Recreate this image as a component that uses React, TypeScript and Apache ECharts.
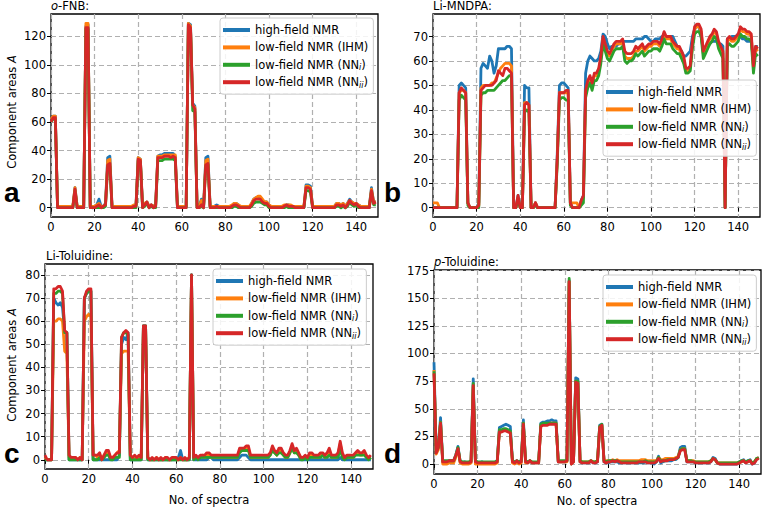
import { useEffect, useRef } from 'react';
import * as echarts from 'echarts';

const COLORS = ['#1f77b4', '#ff7f0e', '#2ca02c', '#d62728'];
const SERIES_NAMES = ['high-field NMR', 'low-field NMR (IHM)', 'low-field NMR (NNi)', 'low-field NMR (NNii)'];
const X_TICKS = [0, 20, 40, 60, 80, 100, 120, 140];

// Panel a: o-FNB
const A_blue = [62,64,64,1,0,0,0,0,0,0, 0,14,1,0,0,0,127,128,1,0, 1,2,6,1,1,3,35,36,1,0, 0,0,0,0,0,0,0,1,1,2, 35,34,1,3,4,1,2,1,2,36, 37,37,38,38,38,38,38,36,1,1, 1,1,1,129,128,73,71,1,1,6, 1,35,36,1,1,1,2,1,0,0, 0,0,0,1,3,3,2,0,0,0, 0,0,3,6,7,7,7,5,4,4, 2,0,0,0,0,0,1,1,2,2, 1,1,0,0,0,0,0,16,16,15, 1,0,0,0,0,0,0,0,0,0, 1,3,3,2,3,1,3,6,4,3, 3,2,1,0,0,0,1,14,4,4];
const A_orange = [62,64,64,1,1,1,1,1,1,1, 1,14,1,1,1,1,129,129,1,1, 1,2,3,1,1,2,33,34,1,1, 1,1,1,1,1,1,1,1,2,2, 35,34,1,3,4,1,2,1,2,36, 36,36,37,37,37,37,37,37,1,1, 1,1,1,129,127,72,70,1,1,5, 1,33,34,1,1,1,1,1,1,1, 1,1,1,2,3,3,2,1,1,1, 1,1,3,6,7,8,8,6,4,4, 2,1,1,1,1,1,1,2,2,2, 2,1,1,1,1,1,1,15,15,14, 1,1,1,1,1,1,1,1,1,1, 1,3,3,2,3,1,3,5,4,3, 3,2,1,1,1,1,1,13,4,4];
const A_green = [60,62,62,0,0,0,0,0,0,0, 0,12,0,0,0,0,125,125,0,0, 0,0,0,0,0,1,29,29,0,0, 0,0,0,0,0,0,0,0,0,0, 33,32,0,1,3,0,1,0,0,33, 33,33,34,34,34,34,34,33,0,0, 0,0,0,127,125,68,67,0,0,1, 0,29,30,0,0,0,0,0,0,0, 0,0,0,0,1,1,0,0,0,0, 0,0,1,3,4,4,4,3,2,2, 0,0,0,0,0,0,0,0,1,0, 0,0,0,0,0,0,0,12,12,11, 0,0,0,0,0,0,0,0,0,0, 0,1,1,0,1,0,1,4,2,1, 2,0,0,0,0,0,0,11,2,2];
const A_red = [60,63,63,0,0,0,0,0,0,0, 0,13,0,0,0,0,126,126,0,0, 0,1,2,0,1,2,30,31,0,0, 0,0,0,0,0,0,0,0,1,1, 34,33,0,2,4,0,2,0,1,35, 35,35,36,36,36,35,36,35,0,0, 0,0,0,128,126,72,69,0,0,2, 0,30,31,0,0,0,1,0,0,0, 0,0,0,1,2,2,1,0,0,0, 0,0,2,5,6,6,6,4,3,3, 1,0,0,0,0,0,0,1,2,1, 1,1,0,0,0,0,0,14,14,13, 0,0,0,0,0,0,0,0,0,0, 0,2,2,1,2,0,2,5,3,2, 3,1,0,0,0,0,0,12,3,4];
const A_TICKS = [0, 20, 40, 60, 80, 100, 120];

// Panel b: Li-MNDPA
const B_blue = [0,0,0,0,0,0,0,0,0,0, 0,0,50,51,50,49,2,0,0,0, 0,2,57,59,58,57,62,60,55,58, 65,65,65,65,66,66,65,0,0,5, 0,0,50,49,49,0,0,2,0,0, 0,0,0,0,0,0,0,22,50,51, 51,50,49,2,0,0,0,0,3,5, 55,60,62,61,60,60,61,64,71,70, 67,65,66,66,66,67,67,68,68,68, 68,68,68,69,69,69,69,70,70,69, 68,68,69,69,69,70,70,70,70,70, 70,68,66,65,64,62,62,63,64,70, 73,74,74,70,64,65,66,67,68,68, 68,67,67,66,0,69,69,70,70,70, 71,70,69,69,68,68,68,60,66,66];
const B_orange = [2,2,2,0,0,0,0,0,0,0, 0,0,47,48,48,47,2,0,0,0, 0,1,49,50,50,50,50,51,51,53, 55,57,58,59,59,59,58,0,0,4, 0,0,43,43,42,0,0,2,0,0, 0,0,0,0,0,0,0,20,47,47, 47,47,47,2,2,2,2,0,2,4, 47,51,53,50,54,54,56,61,69,66, 63,62,64,66,67,67,67,68,62,61, 61,61,62,64,64,65,66,64,65,66, 66,67,67,67,66,68,71,69,69,69, 67,66,65,65,62,60,56,56,57,67, 73,74,74,72,63,65,67,69,70,72, 71,67,65,63,0,68,69,68,68,69, 70,73,72,72,71,71,70,57,65,64];
const B_green = [0,0,0,0,0,0,0,0,0,0, 0,0,44,46,45,44,1,0,0,0, 0,0,46,47,47,48,48,48,48,49, 50,51,52,52,53,54,54,0,0,3, 0,0,39,40,39,0,0,1,0,0, 0,0,0,0,0,0,0,18,44,45, 45,44,44,1,0,0,0,0,1,2, 45,49,51,48,52,52,54,59,67,64, 61,60,62,64,65,65,65,66,60,59, 60,60,61,63,62,63,64,62,63,64, 64,65,65,65,64,66,69,67,67,67, 65,64,63,63,61,59,55,55,56,65, 71,72,72,70,61,63,65,67,68,70, 69,65,63,61,0,66,67,66,66,67, 68,71,70,70,69,69,68,55,63,62];
const B_red = [0,0,0,0,0,0,0,0,0,0, 0,0,47,49,48,47,2,0,0,0, 0,1,48,49,50,50,50,50,51,52, 56,55,54,57,57,56,55,0,0,5, 0,0,42,43,42,0,0,2,0,0, 0,0,0,0,0,0,0,20,47,47, 47,48,48,2,0,0,0,0,3,5, 48,52,54,51,55,55,57,62,70,67, 64,63,65,67,68,68,68,69,64,63, 63,63,64,66,65,66,67,65,66,67, 67,68,68,68,67,69,72,70,70,70, 68,67,66,66,64,62,57,57,58,68, 74,75,75,73,64,66,68,70,71,73, 72,68,66,64,0,69,70,69,69,70, 71,74,73,73,72,72,71,58,66,65];
const B_TICKS = [0, 10, 20, 30, 40, 50, 60, 70];

// Panel c: Li-Toluidine
const C_blue = [0,0,0,0,70,68,67,68,66,55, 55,0,0,0,0,0,0,0,70,72, 73,73,0,0,0,0,0,0,0,0, 0,0,0,0,2,50,53,52,55,0, 0,0,0,0,0,58,58,0,0,0, 0,0,0,0,0,0,0,0,0,0, 0,1,4,0,0,0,0,80,0,0, 0,0,0,0,0,1,1,0,0,0, 0,0,0,0,0,0,0,0,0,1, 2,2,2,1,0,0,0,0,0,0, 0,0,0,0,0,0,0,0,0,0, 0,0,0,0,0,0,0,0,0,0, 0,0,0,0,0,0,0,0,0,0, 0,0,0,0,0,1,0,0,0,0, 0,0,0,0,0,0,0,0,0,0];
const C_orange = [1,0,0,0,60,60,61,61,60,47, 46,1,1,1,1,0,1,0,60,62, 63,62,2,2,1,2,0,2,3,3, 1,1,2,3,4,46,47,47,47,1, 1,1,1,1,1,57,57,1,0,0, 0,1,0,0,0,1,0,0,0,1, 0,0,1,0,0,0,1,79,1,1, 1,1,2,1,2,2,1,1,1,1, 1,1,1,1,1,1,1,1,1,4, 4,4,5,5,1,1,1,1,1,1, 1,1,1,2,5,3,2,4,4,2, 1,1,3,6,3,4,2,1,1,1, 1,2,2,1,1,1,2,2,1,2, 4,1,1,1,2,7,2,1,1,1, 1,1,2,3,2,2,3,1,1,1];
const C_green = [0,0,0,0,72,72,73,73,72,55, 55,0,0,0,0,0,0,0,70,72, 73,73,0,0,0,1,0,1,2,2, 0,0,1,1,1,53,55,55,54,0, 0,0,0,0,0,58,58,0,0,0, 0,0,0,0,0,0,0,0,0,0, 0,0,0,0,0,0,0,80,0,1, 0,1,1,1,1,1,1,1,1,1, 1,1,1,1,1,1,1,1,1,3, 4,4,4,4,1,1,1,1,1,1, 1,1,1,2,4,3,2,3,3,2, 1,1,3,5,3,3,2,0,0,1, 0,1,1,1,1,1,1,2,1,1, 2,1,1,1,1,5,1,0,1,1, 1,1,2,2,2,2,2,1,0,1];
const C_red = [2,0,0,0,74,74,75,75,73,56, 55,2,1,1,1,0,1,0,70,73, 74,74,2,2,2,3,0,2,4,4, 1,1,2,3,3,53,55,56,55,2, 1,2,1,2,1,58,58,1,0,1, 0,1,0,1,0,1,1,0,1,1, 1,0,1,0,1,0,1,80,1,2, 1,2,2,2,3,3,2,2,2,2, 2,2,2,2,2,2,2,2,2,5, 5,5,6,6,2,2,2,2,2,2, 2,2,2,3,6,4,3,5,5,3, 2,2,4,7,4,5,3,1,1,2, 1,3,3,2,2,2,3,3,2,3, 5,2,2,2,3,8,3,1,2,2, 2,2,3,4,3,3,4,2,1,2];
const C_TICKS = [0, 10, 20, 30, 40, 50, 60, 70, 80];

// Panel d: p-Toluidine
const D_blue = [92,10,16,42,2,2,2,3,3,3, 8,16,2,1,2,1,1,2,77,2, 1,1,2,1,1,1,1,1,1,2, 33,34,35,36,35,34,2,1,3,1, 2,40,2,1,3,1,1,1,1,37, 38,38,39,39,40,39,39,2,2,2, 2,3,166,0,2,78,77,2,1,1, 1,1,3,1,1,2,35,36,2,1, 1,2,2,2,2,1,1,1,1,1, 1,1,1,1,1,1,1,2,1,1, 1,0,2,7,1,2,3,3,3,3, 4,4,6,15,16,16,2,2,2,2, 1,1,1,1,1,1,1,2,6,5, 1,0,0,0,0,0,0,0,0,0, 1,3,4,1,3,4,0,1,5,6];
const D_orange = [85,9,13,38,0,0,0,1,1,1, 6,14,1,0,0,0,0,1,72,0, 0,0,0,0,0,0,0,0,0,1, 30,30,31,31,30,29,1,0,2,0, 1,37,1,1,3,1,1,1,1,35, 36,36,36,37,37,37,37,2,2,2, 2,2,165,0,2,75,74,2,2,2, 2,2,3,2,2,3,34,35,3,3, 3,3,4,3,4,3,3,3,3,3, 3,3,3,3,3,4,4,4,3,3, 3,3,3,6,4,4,5,5,5,5, 5,6,7,13,14,14,3,3,3,3, 2,2,2,2,2,2,2,3,5,4, 1,1,1,1,1,1,1,1,1,1, 1,2,3,2,2,3,1,2,5,6];
const D_green = [84,11,15,38,3,3,3,3,3,3, 8,15,3,2,2,2,2,3,73,3, 2,2,2,2,2,2,2,2,2,3, 31,31,32,32,31,30,3,2,3,2, 3,37,3,2,3,2,2,2,2,36, 37,37,37,37,37,37,37,3,3,3, 3,3,168,1,3,75,75,3,2,2, 2,2,3,2,2,3,34,36,3,2, 3,3,3,3,3,2,2,2,2,2, 2,2,2,2,2,2,2,3,2,2, 2,2,2,6,3,3,3,4,4,4, 4,5,6,13,14,14,3,3,3,2, 2,2,2,2,2,2,2,3,5,4, 1,1,1,1,1,1,1,1,1,1, 2,3,3,2,3,3,1,2,5,5];
const D_red = [82,10,15,37,2,2,2,3,3,3, 8,14,2,1,1,1,1,2,71,2, 1,1,1,1,1,1,1,1,1,2, 29,29,30,30,29,28,2,1,3,1, 2,36,2,1,3,1,1,1,1,34, 35,35,35,36,36,36,36,2,2,2, 2,3,165,0,2,74,73,2,1,1, 1,1,3,1,1,2,33,35,2,1, 2,2,3,2,3,2,1,1,1,1, 1,1,1,1,2,2,2,2,1,1, 1,1,2,5,2,3,3,3,4,4, 4,5,6,12,13,13,2,2,2,2, 1,1,1,1,1,1,1,2,5,4, 1,0,0,0,0,0,0,0,0,0, 1,2,3,1,2,3,0,1,4,5];
const D_TICKS = [0, 25, 50, 75, 100, 125, 150, 175];

const FONT = 'DejaVu Sans';

const PANELS = [
  { grid: { left: 51, top: 14, width: 327, height: 203 }, yMin: -6.5, yMax: 135.5, ticks: A_TICKS, data: [A_blue, A_orange, A_green, A_red], legend: { left: 220, top: 18 } },
  { grid: { left: 433, top: 14, width: 327, height: 203 }, yMin: -3.8, yMax: 79.2, ticks: B_TICKS, data: [B_blue, B_orange, B_green, B_red], legend: { left: 603, top: 80 } },
  { grid: { left: 45, top: 264, width: 328, height: 205 }, yMin: -4, yMax: 84.75, ticks: C_TICKS, data: [C_blue, C_orange, C_green, C_red], legend: { left: 213, top: 269 } },
  { grid: { left: 434, top: 270, width: 327, height: 204 }, yMin: -9, yMax: 175.5, ticks: D_TICKS, data: [D_blue, D_orange, D_green, D_red], legend: { left: 603, top: 275 } },
];

function legendFormatter(name: string) {
  if (name === 'low-field NMR (NNi)') return 'low-field NMR (NN{sub|i})';
  if (name === 'low-field NMR (NNii)') return 'low-field NMR (NN{sub|ii})';
  return name;
}

export default function App() {
  const ref = useRef<HTMLDivElement>(null);
  useEffect(() => {
    document.body.style.margin = '0';
    if (!ref.current) return;
    const chart = echarts.init(ref.current, undefined, { renderer: 'svg' });
    const grids: any[] = [];
    const xAxes: any[] = [];
    const yAxes: any[] = [];
    const series: any[] = [];
    const legends: any[] = [];
    PANELS.forEach((p, k) => {
      grids.push({ ...p.grid, show: true, borderColor: '#000', borderWidth: 1.3, backgroundColor: 'transparent', containLabel: false });
      xAxes.push({
        type: 'value', gridIndex: k, min: 0, max: 150,
        axisLine: { show: false },
        axisTick: { show: true, customValues: X_TICKS, length: 4, lineStyle: { color: '#000', width: 1 } },
        axisLabel: { customValues: X_TICKS, fontSize: 11.5, color: '#000', fontFamily: FONT, margin: 4 },
        splitLine: { show: true, lineStyle: { color: '#b0b0b0', type: [5, 3], width: 1.2 } },
      });
      yAxes.push({
        type: 'value', gridIndex: k, min: p.yMin, max: p.yMax,
        axisLine: { show: false },
        axisTick: { show: true, customValues: p.ticks, length: 4, lineStyle: { color: '#000', width: 1 } },
        axisLabel: { customValues: p.ticks, fontSize: 11.5, color: '#000', fontFamily: FONT, margin: 5 },
        splitLine: { show: true, lineStyle: { color: '#b0b0b0', type: [5, 3], width: 1.2 } },
      });
      p.data.forEach((arr, s) => {
        series.push({
          type: 'line', name: SERIES_NAMES[s], xAxisIndex: k, yAxisIndex: k,
          data: arr.map((v, i) => [i, v]),
          showSymbol: false, symbol: 'none', clip: true,
          lineStyle: { color: COLORS[s], width: 2.8, join: 'round' },
          itemStyle: { color: COLORS[s] },
          z: 2 + s,
        });
      });
      legends.push({
        data: SERIES_NAMES, orient: 'vertical', left: p.legend.left, top: p.legend.top,
        icon: 'rect', itemWidth: 27, itemHeight: 4, itemGap: 3.4, itemTextGap: 7,
        padding: [5, 5, 5, 3], borderColor: '#cccccc', borderWidth: 1, borderRadius: 3,
        backgroundColor: 'rgba(255,255,255,0.85)', selectedMode: false, z: 10,
        formatter: legendFormatter,
        textStyle: {
          fontSize: 11.5, color: '#000', fontFamily: FONT, lineHeight: 14,
          rich: { sub: { fontSize: 8, fontStyle: 'italic', fontFamily: FONT, lineHeight: 14, verticalAlign: 'bottom', color: '#000' } },
        },
      });
    });

    const txt = (x: number, y: number, text: string, extra: any = {}) => ({
      type: 'text', x, y, z: 20,
      style: { text, fontSize: 11.5, fontFamily: FONT, fill: '#000', textAlign: 'left', textVerticalAlign: 'middle', ...extra },
    });
    const letter = (x: number, y: number, t: string) => txt(x, y, t, { fontSize: 28, fontWeight: 'bold', fontFamily: 'Liberation Sans', textVerticalAlign: 'bottom' });
    const yName = (x: number, y: number) => ({
      type: 'text', x, y, rotation: Math.PI / 2, z: 20,
      style: {
        text: 'Component areas {i|A}', fontSize: 11.5, fontFamily: FONT, fill: '#000', textAlign: 'center', textVerticalAlign: 'middle',
        rich: { i: { fontStyle: 'italic', fontSize: 11.5, fontFamily: FONT } },
      },
    });
    const graphic = [
      txt(51, 6, '{i|o}-FNB:', { rich: { i: { fontStyle: 'italic', fontSize: 11.5, fontFamily: FONT } } }),
      txt(433, 6, 'Li-MNDPA:'),
      txt(46, 256, 'Li-Toluidine:'),
      txt(434, 262, '{i|p}-Toluidine:', { rich: { i: { fontStyle: 'italic', fontSize: 11.5, fontFamily: FONT } } }),
      yName(12, 112),
      yName(12, 365),
      txt(209, 500, 'No. of spectra', { textAlign: 'center' }),
      txt(597, 501, 'No. of spectra', { textAlign: 'center' }),
      letter(4, 206, 'a'),
      letter(384, 206, 'b'),
      letter(4, 467, 'c'),
      letter(384, 467, 'd'),
    ];

    chart.setOption({
      animation: false,
      backgroundColor: '#fff',
      textStyle: { fontFamily: FONT },
      grid: grids, xAxis: xAxes, yAxis: yAxes, series, legend: legends, graphic,
    });
    return () => chart.dispose();
  }, []);
  return <div ref={ref} style={{ width: 763, height: 511 }} />;
}
